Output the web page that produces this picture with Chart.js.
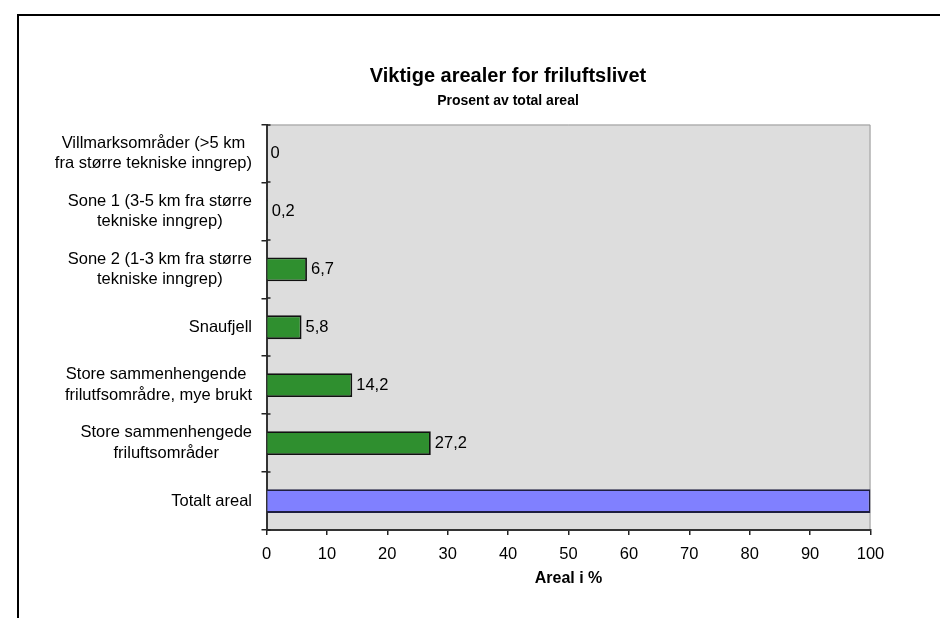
<!DOCTYPE html>
<html>
<head>
<meta charset="utf-8">
<script src="https://cdn.jsdelivr.net/npm/chart.js@4.4.1/dist/chart.umd.min.js"></script>
<style>
html,body{margin:0;padding:0;background:#fff;overflow:hidden;width:940px;height:618px;}
#frame{position:absolute;left:17px;top:14px;border:2px solid #000;width:978px;height:640px;background:#fff;}
canvas{display:block;}
</style>
</head>
<body>
<div id="frame"><canvas id="c" width="978" height="640"></canvas></div>
<script>
// ---- data ----
const categories = [
  ["Villmarksområder (>5 km", "fra større tekniske inngrep)"],
  ["Sone 1 (3-5 km fra større", "tekniske inngrep)"],
  ["Sone 2 (1-3 km fra større", "tekniske inngrep)"],
  ["Snaufjell"],
  ["Store sammenhengende ", "frilutfsområdre, mye brukt"],
  ["Store sammenhengede", "friluftsområder"],
  ["Totalt areal"]
];
const areaShare = [0, 0.2, 6.7, 5.8, 14.2, 27.2, null];
const totalArea = [null, null, null, null, null, null, 100];
const xTickValues = [0, 10, 20, 30, 40, 50, 60, 70, 80, 90, 100];
const titleText = "Viktige arealer for friluftslivet";
const subtitleText = "Prosent av total areal";
const xAxisTitle = "Areal i %";

// ---- styling ----
const FONT = "'Liberation Sans', Arial, sans-serif";
const TICK_SIZE = 16.5;
const LINE_H = 20.5;
const fmt = v => String(v).replace('.', ',');

const plotBg = {
  id: 'plotBg',
  beforeDraw(chart) {
    const {ctx, chartArea: a} = chart;
    ctx.save();
    ctx.fillStyle = '#DDDDDD';
    ctx.fillRect(a.left, a.top, a.right - a.left, a.bottom - a.top);
    ctx.strokeStyle = '#9A9A9A';
    ctx.lineWidth = 1;
    ctx.beginPath();
    ctx.moveTo(a.left, a.top + 0.5);
    ctx.lineTo(a.right - 0.5, a.top + 0.5);
    ctx.lineTo(a.right - 0.5, a.bottom);
    ctx.stroke();
    ctx.restore();
  }
};

const yLabels = {
  id: 'yLabels',
  afterDraw(chart) {
    const {ctx, chartArea: a} = chart;
    const ys = chart.scales.y;
    ctx.save();
    ctx.font = TICK_SIZE + "px " + FONT;
    ctx.fillStyle = '#000';
    ctx.textAlign = 'center';
    ctx.textBaseline = 'middle';
    const right = a.left - 14.5;
    categories.forEach((lines, i) => {
      const w = Math.max(...lines.map(l => ctx.measureText(l).width));
      const cx = right - w / 2;
      const cy = ys.getPixelForValue(i);
      lines.forEach((l, j) => {
        ctx.fillText(l, cx, cy + (j - (lines.length - 1) / 2) * LINE_H);
      });
    });
    // inner half of the category tick marks
    ctx.strokeStyle = '#222';
    ctx.lineWidth = 1.5;
    for (let i = 0; i <= categories.length; i++) {
      const py = Math.round(ys.getPixelForValue(i - 0.5));
      ctx.beginPath();
      ctx.moveTo(a.left, py);
      ctx.lineTo(a.left + 4, py);
      ctx.stroke();
    }
    ctx.restore();
  }
};

const valueLabels = {
  id: 'valueLabels',
  afterDatasetsDraw(chart) {
    const {ctx} = chart;
    const meta = chart.getDatasetMeta(0);
    ctx.save();
    ctx.font = TICK_SIZE + "px " + FONT;
    ctx.fillStyle = '#000';
    ctx.textAlign = 'left';
    ctx.textBaseline = 'middle';
    meta.data.forEach((bar, i) => {
      const v = areaShare[i];
      if (v === null || v === undefined) return;
      ctx.fillText(fmt(v), bar.x + 4, bar.y);
    });
    ctx.restore();
  }
};

new Chart(document.getElementById('c'), {
  type: 'bar',
  data: {
    labels: categories,
    datasets: [
      {
        label: 'Prosent av total areal',
        data: areaShare,
        backgroundColor: '#2F8F2F',
        borderColor: '#111111',
        borderWidth: 1.8,
        borderSkipped: 'start',
        grouped: false,
        barPercentage: 0.41,
        categoryPercentage: 1
      },
      {
        label: 'Totalt areal',
        data: totalArea,
        backgroundColor: '#8080FF',
        borderColor: '#1E1E40',
        borderWidth: 1.8,
        borderSkipped: 'start',
        grouped: false,
        barPercentage: 0.41,
        categoryPercentage: 1
      }
    ]
  },
  options: {
    indexAxis: 'y',
    responsive: false,
    animation: false,
    devicePixelRatio: 1,
    layout: {padding: {left: 126.5, right: 126.5, top: 0, bottom: 0}},
    plugins: {
      legend: {display: false},
      tooltip: {enabled: false},
      title: {
        display: true, text: titleText, color: '#000',
        font: {family: FONT, size: 20, weight: 'bold'},
        padding: {top: 48, bottom: 0}
      },
      subtitle: {
        display: true, text: subtitleText, color: '#000',
        font: {family: FONT, size: 14, weight: 'bold'},
        padding: {top: 4.6, bottom: 15.1}
      }
    },
    scales: {
      x: {
        type: 'linear', min: 0, max: 100,
        afterBuildTicks: s => { s.ticks = xTickValues.map(v => ({value: v})); },
        ticks: {font: {family: FONT, size: TICK_SIZE}, color: '#000', padding: 9.5, maxRotation: 0, autoSkip: false},
        grid: {drawOnChartArea: false, tickLength: 5, color: '#222', lineWidth: 1.5},
        border: {color: '#333', width: 2},
        title: {
          display: true, text: xAxisTitle, color: '#000',
          font: {family: FONT, size: 16, weight: 'bold'},
          padding: {top: 0, bottom: 67.4}
        },
        afterFit: s => { s.height = 126; }
      },
      y: {
        type: 'category', offset: true,
        ticks: {display: false},
        grid: {offset: true, drawOnChartArea: false, tickLength: 5, color: '#222', lineWidth: 1.5},
        border: {color: '#333', width: 2},
        afterFit: s => { s.width = 121; }
      }
    }
  },
  plugins: [plotBg, yLabels, valueLabels]
});
</script>
</body>
</html>
